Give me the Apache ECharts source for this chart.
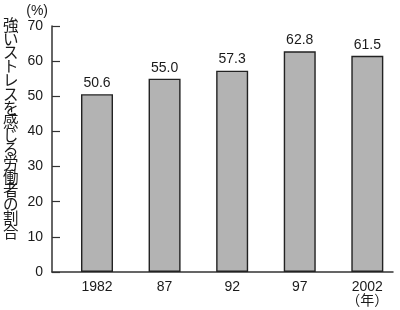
<!DOCTYPE html>
<html><head><meta charset="utf-8">
<script src="https://cdn.jsdelivr.net/npm/echarts@6/dist/echarts.min.js"></script>
<style>html,body{margin:0;padding:0;background:#fff}#c{width:400px;height:310px}</style>
</head><body><div id="c"></div>
<script>
var categories = ['1982', '87', '92', '97', '2002\n（年）'];
var values = [50.6, 55.0, 57.3, 62.8, 61.5];
var yTicks = [0, 10, 20, 30, 40, 50, 60, 70];
var yTitle = '強いストレスを感じる労働者の割合';
var yUnit = '(%)';

var FONT = "'Liberation Sans', 'Noto Sans CJK JP', sans-serif";
var chart = echarts.init(document.getElementById('c'), null, {renderer: 'canvas'});
var idx = categories.map(function (_, i) { return i; });
chart.setOption({
  animation: false,
  backgroundColor: '#fff',
  title: {
    text: yTitle.split('').join('\n'),
    left: 3, top: 18, padding: 0,
    textStyle: {fontFamily: "'Noto Sans CJK JP'", fontSize: 15.5, lineHeight: 13.8, fontWeight: 'normal', color: '#1a1a1a'}
  },
  grid: {left: 52, right: 7, top: 26, bottom: 38},
  xAxis: {
    type: 'value', min: -0.666, max: 4.38,
    splitLine: {show: false},
    axisLine: {show: true, onZero: false, lineStyle: {color: '#333', width: 1.5}},
    axisTick: {show: false},
    axisLabel: {
      customValues: idx,
      formatter: function (v) { return categories[Math.round(v)]; },
      fontFamily: FONT, fontSize: 14, color: '#1a1a1a', margin: 8, lineHeight: 14
    }
  },
  yAxis: {
    type: 'value', min: yTicks[0], max: yTicks[yTicks.length - 1], interval: 10,
    name: yUnit, nameLocation: 'end', nameGap: 8,
    nameTextStyle: {fontFamily: FONT, fontSize: 14, color: '#1a1a1a', align: 'right', padding: [0, 4, 0, 0]},
    splitLine: {show: false},
    axisLine: {show: true, onZero: false, lineStyle: {color: '#333', width: 1.5}},
    axisTick: {show: true, inside: true, length: 8, lineStyle: {color: '#333', width: 1.2}},
    axisLabel: {fontFamily: FONT, fontSize: 14, color: '#1a1a1a', margin: 9}
  },
  series: [{
    type: 'bar',
    barWidth: 32,
    data: values.map(function (v, i) { return [i, v]; }),
    itemStyle: {color: '#b3b3b3', borderColor: '#222', borderWidth: 1.4},
    label: {
      show: true, position: 'top', distance: 4,
      fontFamily: FONT, fontSize: 14, color: '#1a1a1a',
      formatter: function (p) { return p.value[1].toFixed(1); }
    }
  }]
});
</script></body></html>
